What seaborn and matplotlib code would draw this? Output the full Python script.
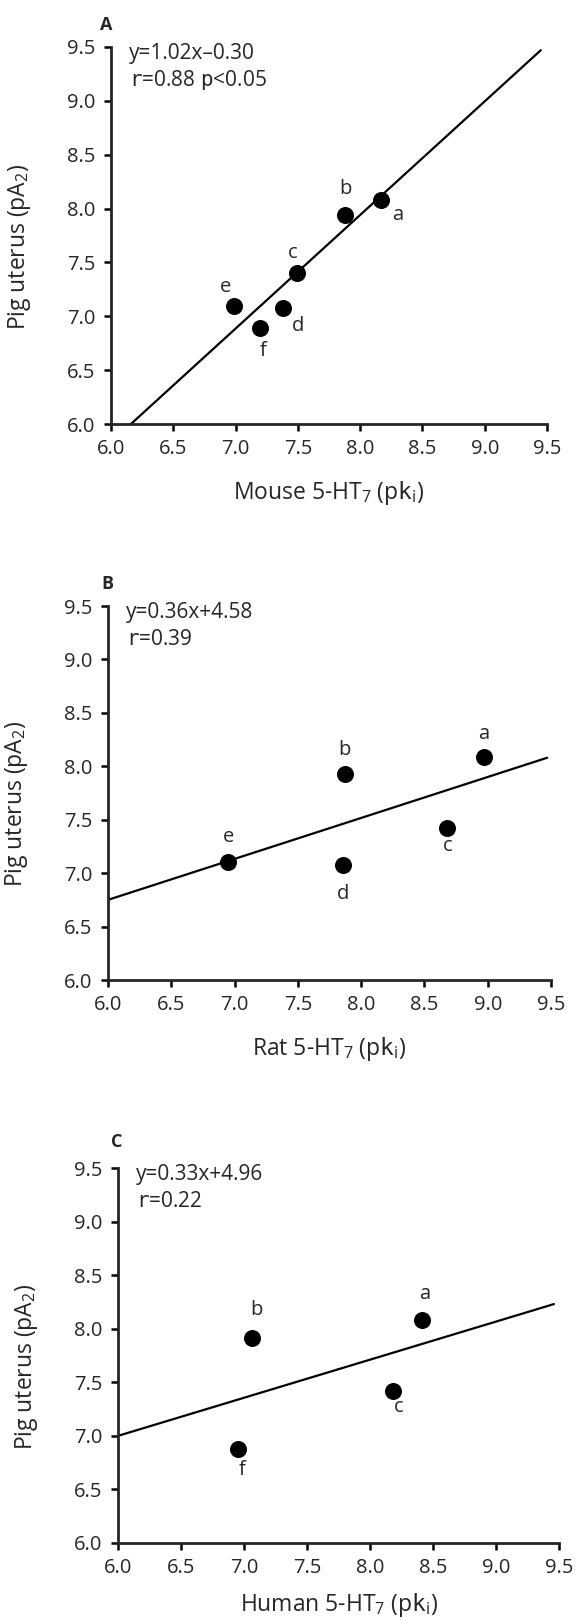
import matplotlib
matplotlib.use("Agg")
import matplotlib.pyplot as plt
import seaborn as sns
import pandas as pd

# ---------------- data ----------------
ticks = [6.0, 6.5, 7.0, 7.5, 8.0, 8.5, 9.0, 9.5]

a_labels = ["a", "b", "c", "d", "e", "f"]
a_x = [8.17, 7.88, 7.49, 7.38, 6.99, 7.20]
a_y = [8.08, 7.94, 7.40, 7.08, 7.10, 6.89]
a_fit_x = [6.16, 9.45]
a_fit_y = [6.00, 9.47]

b_labels = ["a", "b", "c", "d", "e"]
b_x = [8.97, 7.87, 8.68, 7.86, 6.95]
b_y = [8.09, 7.93, 7.42, 7.08, 7.10]
b_fit_x = [6.00, 9.47]
b_fit_y = [6.75, 8.08]

c_labels = ["a", "b", "c", "f"]
c_x = [8.41, 7.06, 8.18, 6.95]
c_y = [8.08, 7.91, 7.42, 6.88]
c_fit_x = [6.00, 9.46]
c_fit_y = [7.00, 8.23]

panel_letters = ["A", "B", "C"]
eq_lines = ["y=1.02x\u20130.30", "y=0.36x+4.58", "y=0.33x+4.96"]
stat_lines = [r"$\mathtt{r}$=0.88 $\mathtt{p}$<0.05", r"$\mathtt{r}$=0.39", r"$\mathtt{r}$=0.22"]
x_titles = [r"Mouse 5-HT$_7$ (p$\mathtt{k}_\mathrm{i}$)",
            r"Rat 5-HT$_7$ (p$\mathtt{k}_\mathrm{i}$)",
            r"Human 5-HT$_7$ (p$\mathtt{k}_\mathrm{i}$)"]
y_title = r"Pig uterus (pA$_2$)"

# ---------------- style ----------------
sns.set_style("ticks")
FONT = "Open Sans"
plt.rcParams["font.family"] = [FONT, "DejaVu Sans"]
plt.rcParams["mathtext.fontset"] = "custom"
plt.rcParams["mathtext.rm"] = FONT
plt.rcParams["mathtext.it"] = FONT + ":italic"
plt.rcParams["mathtext.sf"] = FONT
plt.rcParams["mathtext.tt"] = "DejaVu Sans Mono"
plt.rcParams["mathtext.default"] = "regular"

W, H = 578, 1620
fig = plt.figure(figsize=(W / 100, H / 100), dpi=100)

# axes boxes in pixels: left, right, top, bottom
boxes = [(111, 547, 47, 424), (108, 551, 606, 980), (118, 559, 1168, 1543)]
letter_pos = [(106, 25), (107, 584), (117, 1142)]
xlabel_drop = [69, 69, 62]

# label offsets in pixels (dx right, dy down)
offsets = [
    [(16, 15), (0, -26), (-4, -20), (15, 18), (-9, -19), (3, 23)],
    [(0, -23), (0, -24), (0, 18), (0, 29), (0, -25)],
    [(3, -26), (5, -28), (6, 16), (4, 21)],
]

panels = [
    (a_labels, a_x, a_y, a_fit_x, a_fit_y),
    (b_labels, b_x, b_y, b_fit_x, b_fit_y),
    (c_labels, c_x, c_y, c_fit_x, c_fit_y),
]

FS = 14.5
for i, (labs, xs, ys, fx, fy) in enumerate(panels):
    l, r, t, b = boxes[i]
    ax = fig.add_axes([l / W, 1 - b / H, (r - l) / W, (b - t) / H])
    df = pd.DataFrame({"x": xs, "y": ys, "lab": labs})
    fit = pd.DataFrame({"x": fx, "y": fy})
    sns.lineplot(data=fit, x="x", y="y", ax=ax, color="black", lw=1.6)
    sns.scatterplot(data=df, x="x", y="y", ax=ax, color="black", s=150,
                    edgecolor="black", linewidth=0, zorder=3)
    for (lab, x, y), (dx, dy) in zip(zip(labs, xs, ys), offsets[i]):
        ax.annotate(lab, (x, y), xytext=(dx * 0.72, -dy * 0.72), textcoords="offset points",
                    ha="center", va="center", fontsize=FS)
    ax.set_xlim(6.0, 9.5)
    ax.set_ylim(6.0, 9.5)
    ax.set_xticks(ticks)
    ax.set_yticks(ticks)
    ax.set_xticklabels([f"{v:.1f}" for v in ticks])
    ax.set_yticklabels([f"{v:.1f}" for v in ticks])
    sns.despine(ax=ax)
    for sp in ("left", "bottom"):
        ax.spines[sp].set_linewidth(2.0)
    ax.tick_params(axis="both", length=5, width=1.8, labelsize=14.5, pad=6, color="black")
    ax.set_xlabel(x_titles[i], fontsize=16.5)
    ax.set_ylabel(y_title, fontsize=16.5)
    hpx = b - t
    wpx = r - l
    ax.xaxis.set_label_coords(0.5, -xlabel_drop[i] / hpx)
    ax.xaxis.label.set_va("center")
    ax.yaxis.set_label_coords(-91 / wpx, 0.47)
    ax.yaxis.label.set_va("center")
    ax.annotate(eq_lines[i], xy=(0, 1), xycoords="axes fraction", xytext=(13, -5),
                textcoords="offset points", ha="left", va="center", fontsize=15)
    ax.annotate(stat_lines[i], xy=(0, 1), xycoords="axes fraction", xytext=(13, -24),
                textcoords="offset points", ha="left", va="center", fontsize=15)
    lx, ly = letter_pos[i]
    fig.text(lx / W, 1 - ly / H, panel_letters[i], fontsize=13, fontweight="bold",
             ha="center", va="center")

fig.savefig("out.png", dpi=100)
